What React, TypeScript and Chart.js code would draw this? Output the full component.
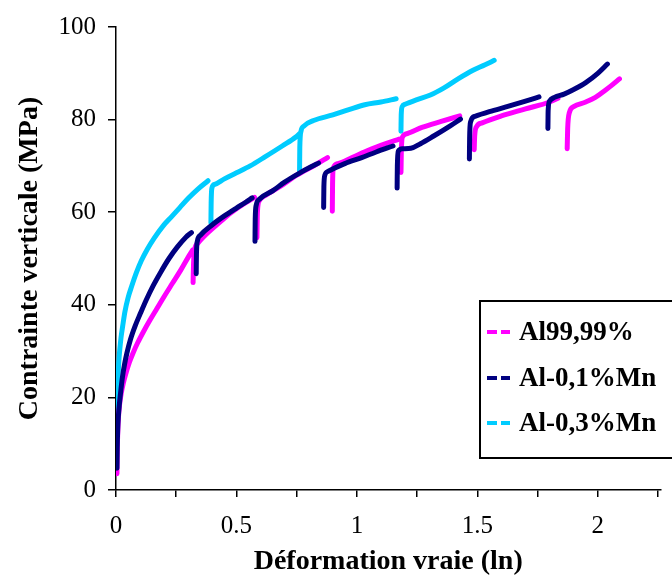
import React, { useEffect, useRef } from "react";
import { Chart, registerables } from "chart.js";

Chart.register(...registerables);

// Al99,99% (null separates the loading segments)
const al9999Strain = [
  0.004, 0.005, 0.007, 0.010, 0.015, 0.022, 0.030, 0.040, 0.055, 0.070, 0.090, 0.115, 0.140, 0.170, 0.200, 0.235, 0.270, 0.300, 0.318, null,
  0.320, 0.322, 0.327, 0.340, 0.380, 0.430, 0.480, 0.530, 0.575, null,
  0.585, 0.587, 0.595, 0.620, 0.680, 0.750, 0.830, 0.878, null,
  0.898, 0.899, 0.902, 0.920, 0.980, 1.050, 1.120, 1.175, null,
  1.183, 1.185, 1.190, 1.210, 1.270, 1.350, 1.427, null,
  1.487, 1.489, 1.497, 1.520, 1.600, 1.700, 1.800, 1.835, null,
  1.873, 1.875, 1.882, 1.900, 1.950, 1.990, 2.030, 2.060, 2.090,
];
const al9999Stress = [
  3.5, 8, 12, 15.5, 18.5, 21, 23, 25, 27.5, 29.5, 31.8, 34.3, 36.6, 39.2, 41.8, 44.7, 47.6, 50.3, 51.8, null,
  44.8, 49, 52, 53.3, 55.5, 57.8, 60, 61.8, 63.2, null,
  54.5, 60, 62.5, 63.6, 65.5, 68, 70.3, 71.8, null,
  60.2, 66, 69.5, 70.5, 71.8, 73.4, 74.8, 75.8, null,
  68.6, 74, 76.3, 77, 78.3, 79.6, 80.8, null,
  73.5, 76.5, 78.5, 79.3, 80.8, 82.3, 83.8, 84.6, null,
  73.7, 78, 81.5, 82.8, 83.8, 84.8, 86.3, 87.5, 88.8,
];

// Al-0,1%Mn
const al01MnStrain = [
  0.004, 0.005, 0.007, 0.010, 0.014, 0.020, 0.027, 0.035, 0.045, 0.060, 0.080, 0.100, 0.125, 0.155, 0.185, 0.220, 0.255, 0.290, 0.313, null,
  0.333, 0.334, 0.338, 0.350, 0.400, 0.450, 0.500, 0.540, 0.565, null,
  0.577, 0.578, 0.582, 0.595, 0.650, 0.700, 0.760, 0.810, 0.841, null,
  0.862, 0.863, 0.867, 0.880, 0.950, 1.020, 1.080, 1.150, null,
  1.167, 1.168, 1.172, 1.190, 1.224, 1.264, 1.317, 1.386, 1.430, null,
  1.467, 1.468, 1.472, 1.490, 1.550, 1.630, 1.700, 1.756, null,
  1.793, 1.794, 1.800, 1.820, 1.860, 1.900, 1.950, 2.000, 2.040,
];
const al01MnStress = [
  4.7, 9, 13, 16, 18.5, 21.5, 24.5, 27, 29.5, 32.5, 35.5, 38, 41, 44.2, 47, 50, 52.5, 54.6, 55.6, null,
  46.7, 51, 53.8, 55, 57.3, 59.2, 60.9, 62.2, 63.1, null,
  53.7, 58.5, 61.5, 62.8, 64.6, 66.5, 68.4, 69.8, 70.6, null,
  61, 65.5, 68, 68.8, 70.5, 71.8, 73, 74.3, null,
  65.2, 70, 73.2, 73.7, 73.8, 74.8, 76.4, 78.6, 80.1, null,
  71.5, 76, 79.5, 80.7, 81.7, 82.9, 84, 84.9, null,
  78.1, 82, 84, 84.8, 85.5, 86.5, 88, 90, 92,
];

// Al-0,3%Mn
const al03MnStrain = [
  0.004, 0.005, 0.007, 0.009, 0.012, 0.016, 0.021, 0.028, 0.037, 0.050, 0.065, 0.085, 0.105, 0.130, 0.160, 0.195, 0.230, 0.265, 0.300, 0.340, 0.382, null,
  0.394, 0.395, 0.398, 0.410, 0.450, 0.500, 0.557, 0.620, 0.690, 0.748, 0.760, null,
  0.762, 0.763, 0.768, 0.780, 0.820, 0.900, 0.970, 1.033, 1.100, 1.163, null,
  1.183, 1.184, 1.188, 1.200, 1.250, 1.305, 1.360, 1.420, 1.480, 1.530, 1.570,
];
const al03MnStress = [
  12, 18, 22, 25, 28, 30.5, 33, 35.5, 38.5, 41.5, 44, 47, 49.5, 52, 54.5, 57, 59, 61, 63, 65, 66.8, null,
  57.7, 62, 65.2, 66, 67.2, 68.5, 70, 72, 74.3, 76.3, 76.9, null,
  68.6, 74, 77.5, 78.6, 79.8, 81, 82.2, 83.2, 83.8, 84.5, null,
  77.5, 81, 82.8, 83.3, 84.3, 85.3, 86.8, 88.8, 90.6, 91.8, 92.8,
];

const seriesNames = ["Al99,99%", "Al-0,1%Mn", "Al-0,3%Mn"];
const seriesColors = ["#FF00FF", "#000080", "#00CCFF"];

const yTicks = [0, 20, 40, 60, 80, 100];

function toPoints(xs: (number | null)[], ys: (number | null)[]) {
  let lastX = 0;
  return xs.map((x, i) => {
    if (x === null || ys[i] === null) return { x: lastX, y: null };
    lastX = x;
    return { x, y: ys[i] };
  });
}

const legendPlugin = {
  id: "boxLegend",
  afterDraw(chart: any) {
    const ctx = chart.ctx;
    ctx.save();
    ctx.strokeStyle = "#000";
    ctx.lineWidth = 2;
    ctx.strokeRect(480, 301, 220, 157);
    const rows = [332, 378, 423];
    ctx.font = "bold 27px 'Liberation Serif'";
    ctx.textBaseline = "middle";
    ctx.textAlign = "left";
    seriesNames.forEach((name, i) => {
      ctx.strokeStyle = seriesColors[i];
      ctx.lineWidth = 4;
      ctx.beginPath();
      ctx.moveTo(487, rows[i]);
      ctx.lineTo(497, rows[i]);
      ctx.moveTo(501, rows[i]);
      ctx.lineTo(510, rows[i]);
      ctx.stroke();
      ctx.fillStyle = "#000";
      ctx.fillText(name, 519, rows[i] + 1);
    });
    ctx.restore();
  },
};

export default function App() {
  const ref = useRef<HTMLCanvasElement>(null);
  useEffect(() => {
    if (!ref.current) return;
    const tickFont = { family: "'Liberation Serif'", size: 25 };
    const titleFont = { family: "'Liberation Serif'", size: 28, weight: "bold" as const };
    const chart = new Chart(ref.current, {
      type: "line",
      data: {
        datasets: [
          { label: seriesNames[0], data: toPoints(al9999Strain, al9999Stress), borderColor: seriesColors[0], order: 2 },
          { label: seriesNames[1], data: toPoints(al01MnStrain, al01MnStress), borderColor: seriesColors[1], order: 1 },
          { label: seriesNames[2], data: toPoints(al03MnStrain, al03MnStress), borderColor: seriesColors[2], order: 3 },
        ].map((d) => ({
          ...d,
          borderWidth: 5,
          pointRadius: 0,
          cubicInterpolationMode: "monotone" as const,
          spanGaps: false,
          fill: false,
          borderCapStyle: "round" as const,
          borderJoinStyle: "round" as const,
        })),
      },
      options: {
        animation: false,
        responsive: false,
        layout: { padding: { top: 19, right: 0, bottom: 0, left: 0 } },
        plugins: { legend: { display: false }, tooltip: { enabled: false } },
        scales: {
          x: {
            type: "linear",
            min: 0,
            max: 2.26,
            afterFit: (s: any) => { s.height = 91; },
            ticks: {
              stepSize: 0.25,
              includeBounds: false,
              autoSkip: false,
              maxRotation: 0,
              padding: 14,
              color: "#000",
              font: tickFont,
              callback: (v: any) => {
                const n = Number(v);
                return Math.abs(n * 2 - Math.round(n * 2)) < 1e-6 ? String(n) : "";
              },
            },
            grid: { display: true, drawOnChartArea: false, drawTicks: true, tickLength: 7, color: "#000", lineWidth: 1.5 },
            border: { display: true, color: "#000", width: 1.5 },
            title: { display: true, text: "Déformation vraie (ln)", color: "#000", font: titleFont, padding: { top: 0, bottom: 2 } },
          },
          y: {
            type: "linear",
            min: 0,
            max: 100,
            afterFit: (s: any) => { s.width = 116; },
            afterBuildTicks: (s: any) => { s.ticks = yTicks.map((v) => ({ value: v })); },
            ticks: { stepSize: 20, padding: 12, color: "#000", font: tickFont },
            grid: { display: true, drawOnChartArea: false, drawTicks: true, tickLength: 8, color: "#000", lineWidth: 1.5 },
            border: { display: true, color: "#000", width: 1.5 },
            title: { display: true, text: "Contrainte verticale (MPa)", color: "#000", font: titleFont, padding: { top: 13, bottom: 0 } },
          },
        },
      },
      plugins: [legendPlugin],
    });
    return () => chart.destroy();
  }, []);
  return (
    <div style={{ position: "fixed", left: 0, top: 0, width: 672, height: 581, background: "#fff" }}>
      <canvas ref={ref} width={672} height={581} style={{ width: 672, height: 581, display: "block" }} />
    </div>
  );
}
